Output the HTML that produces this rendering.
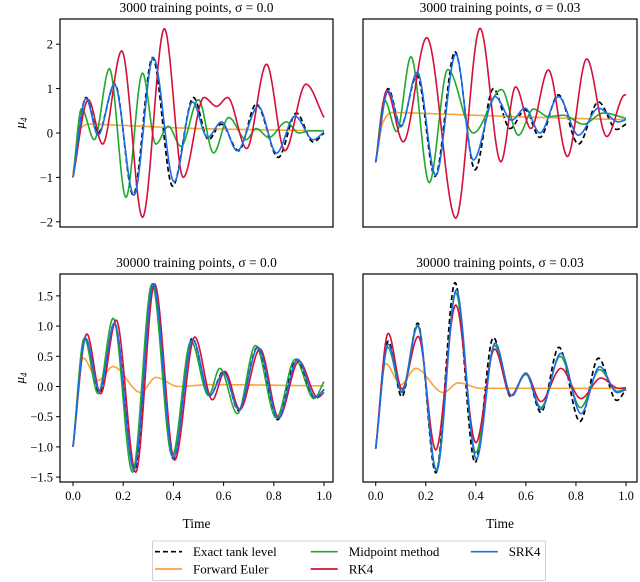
<!DOCTYPE html>
<html><head><meta charset="utf-8"><style>
body{margin:0;background:#fff;}
svg{display:block;font-family:"Liberation Serif",serif;}
</style></head><body>
<svg id="chart" width="640" height="582" viewBox="0 0 640 582" xmlns="http://www.w3.org/2000/svg"></svg>
<script>
// ---- data (time, value) ----
const tickLabelsTop = [-2,-1,0,1,2];
const tickLabelsBottom = [-1.5,-1.0,-0.5,0.0,0.5,1.0,1.5];
const xTicks = [0.0,0.2,0.4,0.6,0.8,1.0];

// Top-left: 3000 pts, sigma 0
const tlExactT = [0,0.052,0.1,0.167,0.24,0.317,0.397,0.48,0.54,0.59,0.66,0.73,0.818,0.89,0.957,1.0];
const tlExactV = [-1,0.8,0.0,1.1,-1.4,1.7,-1.2,0.8,-0.15,0.2,-0.4,0.65,-0.55,0.45,-0.2,0.0];
const tlEulerT = [0,0.03,0.06,0.2,0.5,1.0];
const tlEulerV = [-0.9,0.1,0.2,0.17,0.1,0.05];
const tlMidT = [0,0.034,0.085,0.145,0.211,0.277,0.33,0.38,0.43,0.5,0.56,0.62,0.69,0.73,0.78,0.85,0.9,0.95,1.0];
const tlMidV = [-1,0.55,-0.15,1.45,-1.45,1.35,-0.25,0.15,-0.3,0.75,-0.45,0.35,-0.15,0.1,-0.1,0.25,0.0,0.05,0.05];
const tlRkT = [0,0.061,0.118,0.194,0.277,0.364,0.439,0.522,0.572,0.616,0.692,0.771,0.844,0.928,1.0];
const tlRkV = [-1,0.75,-0.25,1.85,-1.9,2.35,-1.0,0.8,0.6,0.8,-0.35,1.55,-0.4,1.1,0.35];
const tlSrkT = [0,0.052,0.1,0.165,0.243,0.32,0.403,0.476,0.536,0.592,0.654,0.738,0.811,0.884,0.957,1.0];
const tlSrkV = [-1,0.78,-0.05,1.1,-1.4,1.7,-1.1,0.7,-0.1,0.25,-0.4,0.6,-0.45,0.38,-0.15,0.02];

// Top-right: 3000 pts, sigma 0.03
const trExactT = [0,0.05,0.1,0.165,0.237,0.317,0.397,0.47,0.537,0.597,0.656,0.73,0.81,0.89,0.963,1.0];
const trExactV = [-0.66,1.0,0.16,1.3,-0.98,1.83,-0.83,1.0,0.1,0.52,-0.1,0.86,-0.25,0.7,0.08,0.2];
const trEulerT = [0,0.03,0.06,0.3,0.6,1.0];
const trEulerV = [-0.66,0.25,0.46,0.42,0.36,0.3];
const trMidT = [0,0.035,0.084,0.141,0.214,0.288,0.39,0.503,0.57,0.63,0.69,0.75,0.83,0.91,1.0];
const trMidV = [-0.66,0.74,0.03,1.72,-1.12,1.43,0.0,0.98,-0.05,0.54,0.37,0.4,0.2,0.45,0.33];
const trRkT = [0,0.044,0.11,0.204,0.32,0.417,0.5,0.559,0.62,0.69,0.766,0.843,0.923,0.996,1.0];
const trRkV = [-0.66,0.95,-0.2,2.15,-1.92,2.36,-0.65,1.04,0.1,1.42,-0.53,1.67,-0.08,0.86,0.85];
const trSrkT = [0,0.05,0.1,0.166,0.24,0.32,0.39,0.477,0.543,0.597,0.656,0.73,0.81,0.89,0.97,1.0];
const trSrkV = [-0.66,0.95,0.14,1.37,-0.96,1.78,-0.61,0.82,0.29,0.56,0.0,0.82,-0.05,0.56,0.25,0.3];

// Bottom-left: 30000 pts, sigma 0
const blExactT = [0,0.05,0.105,0.165,0.245,0.32,0.4,0.475,0.545,0.6,0.66,0.735,0.815,0.89,0.965,1.0];
const blExactV = [-1,0.8,-0.1,1.05,-1.4,1.7,-1.2,0.8,-0.15,0.25,-0.4,0.65,-0.55,0.45,-0.2,-0.05];
const blEulerT = [0,0.04,0.1,0.16,0.27,0.33,0.42,0.55,1.0];
const blEulerV = [-1,0.47,0.1,0.33,-0.1,0.15,0.0,0.03,0.01];
const blMidT = [0,0.045,0.1,0.16,0.237,0.315,0.395,0.47,0.54,0.585,0.655,0.727,0.81,0.885,0.96,1.0];
const blMidV = [-1,0.8,-0.12,1.13,-1.42,1.7,-1.15,0.75,-0.15,0.3,-0.45,0.68,-0.52,0.45,-0.2,0.08];
const blRkT = [0,0.055,0.11,0.172,0.25,0.325,0.405,0.485,0.555,0.605,0.665,0.745,0.82,0.9,0.975,1.0];
const blRkV = [-1,0.87,-0.12,1.1,-1.42,1.7,-1.22,0.82,-0.22,0.25,-0.38,0.62,-0.52,0.42,-0.18,-0.1];
const blSrkT = [0,0.05,0.105,0.165,0.243,0.32,0.4,0.477,0.545,0.6,0.66,0.737,0.817,0.895,0.965,1.0];
const blSrkV = [-1,0.8,-0.07,1.05,-1.38,1.7,-1.18,0.78,-0.15,0.23,-0.38,0.65,-0.52,0.45,-0.18,-0.05];

// Bottom-right: 30000 pts, sigma 0.03
const brExactT = [0,0.05,0.104,0.168,0.24,0.317,0.397,0.47,0.54,0.6,0.66,0.732,0.816,0.89,0.963,1.0];
const brExactV = [-1.03,0.75,-0.17,1.05,-1.43,1.72,-1.26,0.81,-0.17,0.22,-0.43,0.65,-0.58,0.47,-0.23,-0.05];
const brEulerT = [0,0.04,0.1,0.16,0.27,0.33,0.42,0.6,1.0];
const brEulerV = [-1.03,0.38,0.03,0.3,-0.1,0.06,-0.03,-0.03,-0.03];
const brMidT = [0,0.048,0.104,0.168,0.242,0.32,0.4,0.475,0.54,0.6,0.66,0.737,0.818,0.895,0.965,1.0];
const brMidV = [-1.03,0.65,-0.08,1.02,-1.38,1.55,-1.1,0.68,-0.15,0.2,-0.35,0.5,-0.35,0.28,-0.08,-0.03];
const brRkT = [0,0.05,0.105,0.17,0.24,0.32,0.4,0.475,0.54,0.6,0.66,0.74,0.82,0.9,0.97,1.0];
const brRkV = [-1.03,0.88,-0.04,0.83,-1.05,1.35,-0.93,0.62,-0.15,0.22,-0.25,0.3,-0.2,0.14,-0.03,-0.02];
const brSrkT = [0,0.05,0.105,0.168,0.243,0.322,0.402,0.477,0.543,0.6,0.66,0.74,0.82,0.895,0.965,1.0];
const brSrkV = [-1.03,0.7,-0.1,1.0,-1.4,1.6,-1.2,0.72,-0.15,0.22,-0.38,0.55,-0.45,0.33,-0.1,-0.05];

const NS = "http://www.w3.org/2000/svg";
const svg = document.getElementById('chart');
function mk(tag, attrs, parent){ const e=document.createElementNS(NS,tag); for(const k in attrs) e.setAttribute(k,attrs[k]); (parent||svg).appendChild(e); return e; }

// monotone cubic (Fritsch-Carlson) path
function monoPath(T,V,sx,sy){
  const n=T.length, d=[], m=new Array(n).fill(0);
  for(let i=0;i<n-1;i++) d.push((V[i+1]-V[i])/(T[i+1]-T[i]));
  m[0]=d[0]; m[n-1]=d[n-2];
  for(let i=1;i<n-1;i++){ if(d[i-1]*d[i]<=0) m[i]=0; else { const h0=T[i]-T[i-1],h1=T[i+1]-T[i]; const w1=2*h1+h0,w2=h1+2*h0; m[i]=(w1+w2)/(w1/d[i-1]+w2/d[i]); } }
  let p='M'+sx(T[0]).toFixed(2)+','+sy(V[0]).toFixed(2);
  for(let i=0;i<n-1;i++){
    const h=T[i+1]-T[i];
    for(let k=1;k<=20;k++){
      const s=k/20, s2=s*s, s3=s2*s;
      const v=(2*s3-3*s2+1)*V[i]+(s3-2*s2+s)*h*m[i]+(-2*s3+3*s2)*V[i+1]+(s3-s2)*h*m[i+1];
      p+=' L'+sx(T[i]+s*h).toFixed(2)+','+sy(v).toFixed(2);
    }
  }
  return p;
}

const COLORS = {exact:'#000', euler:'#f9a43a', mid:'#22a82c', rk:'#d3103c', srk:'#1a6ee6'};

function panel(name, title, x0, x1, y0, y1, xz, xo, yz, yk, yTicks, showY, showX, series){
  const g = mk('g',{});
  
  
  const sx = t => xz + t*xo;
  const sy = v => yz - v*yk;
  const tt = mk('text',{x:(x0+x1)/2,y:y0-7,'text-anchor':'middle','font-size':'13.5'},g);
  tt.textContent = title;
  
  
  const clip = mk('clipPath',{id:name+'-clip'},g);
  mk('rect',{x:x0,y:y0,width:x1-x0,height:y1-y0},clip);
  const lines = mk('g',{'clip-path':'url(#'+name+'-clip)'},g);
  series.forEach(s=>{
    const p = mk('path',{d:monoPath(s.t,s.v,sx,sy),fill:'none',stroke:COLORS[s.k],'stroke-width':s.k==='exact'?1.7:1.6,'stroke-dasharray':s.k==='exact'?'5,3':'none','stroke-linejoin':'round'},lines);
    
    
  });
  const fr = mk('rect',{x:x0,y:y0,width:x1-x0,height:y1-y0,fill:'none',stroke:'#000','stroke-width':1.2},g);
  
  
  if(showY){
    yTicks.forEach(v=>{
      const y=sy(v);
      mk('line',{x1:x0,x2:x0-4,y1:y,y2:y,stroke:'#000','stroke-width':1},g);
      const lb = mk('text',{x:x0-7,y:y+4.5,'text-anchor':'end','font-size':'12.5'},g);
      const dec = yTicks===tickLabelsBottom;
      lb.textContent = (v<0?'\u2212':'')+(dec?Math.abs(v).toFixed(1):Math.abs(v).toString());
      
      
    });
    const yl = mk('text',{x:0,y:0,'text-anchor':'middle','font-size':'13','font-style':'italic',transform:'translate(24,'+((y0+y1)/2)+') rotate(-90)'},g);
    yl.innerHTML = 'μ<tspan font-size="9" dy="3">4</tspan>';
    
    
  }
  if(showX){
    xTicks.forEach(t=>{
      const x=sx(t);
      mk('line',{x1:x,x2:x,y1:y1,y2:y1+4,stroke:'#000','stroke-width':1},g);
      const lb = mk('text',{x:x,y:y1+18,'text-anchor':'middle','font-size':'12.5'},g);
      lb.textContent = t.toFixed(1);
      
      
    });
    const xl = mk('text',{x:(x0+x1)/2,y:y1+46,'text-anchor':'middle','font-size':'13.5'},g);
    xl.textContent='Time';
    
    
  }
}
function S(k,t,v){return {k:k,t:t,v:v};}

panel('panel-3000-sigma0','3000 training points, σ = 0.0',60,333,19,227,73,251,133,44.4,tickLabelsTop,true,false,
 [S('exact',tlExactT,tlExactV),S('euler',tlEulerT,tlEulerV),S('mid',tlMidT,tlMidV),S('rk',tlRkT,tlRkV),S('srk',tlSrkT,tlSrkV)]);
panel('panel-3000-sigma003','3000 training points, σ = 0.03',363,637,19,227,375.7,250.3,133,44.4,tickLabelsTop,false,false,
 [S('exact',trExactT,trExactV),S('euler',trEulerT,trEulerV),S('mid',trMidT,trMidV),S('rk',trRkT,trRkV),S('srk',trSrkT,trSrkV)]);
panel('panel-30000-sigma0','30000 training points, σ = 0.0',60,333,274,482,73,251,386.5,60.4,tickLabelsBottom,true,true,
 [S('exact',blExactT,blExactV),S('euler',blEulerT,blEulerV),S('mid',blMidT,blMidV),S('rk',blRkT,blRkV),S('srk',blSrkT,blSrkV)]);
panel('panel-30000-sigma003','30000 training points, σ = 0.03',363,637,274,482,375.7,250.3,386.5,60.4,tickLabelsBottom,false,true,
 [S('exact',brExactT,brExactV),S('euler',brEulerT,brEulerV),S('mid',brMidT,brMidV),S('rk',brRkT,brRkV),S('srk',brSrkT,brSrkV)]);

// legend
const lg = mk('g',{});


mk('rect',{x:152.5,y:541,width:393,height:39.5,fill:'#fff',stroke:'#d0d0d0','stroke-width':1,rx:1.5},lg);
const entries = [
  ['exact','Exact tank level',155,551.7],['euler','Forward Euler',155,569],
  ['mid','Midpoint method',310.7,551.7],['rk','RK4',310.7,569],['srk','SRK4',470.7,551.7]];
entries.forEach(e=>{
  const eg = mk('g',{},lg);
  
  
  mk('line',{x1:e[2],x2:e[2]+27,y1:e[3],y2:e[3],stroke:COLORS[e[0]],'stroke-width':1.7,'stroke-dasharray':e[0]==='exact'?'5,3':'none'},eg);
  const t = mk('text',{x:e[2]+38,y:e[3]+4.5,'font-size':'13'},eg);
  t.textContent = e[1];
});
</script>
</body></html>
